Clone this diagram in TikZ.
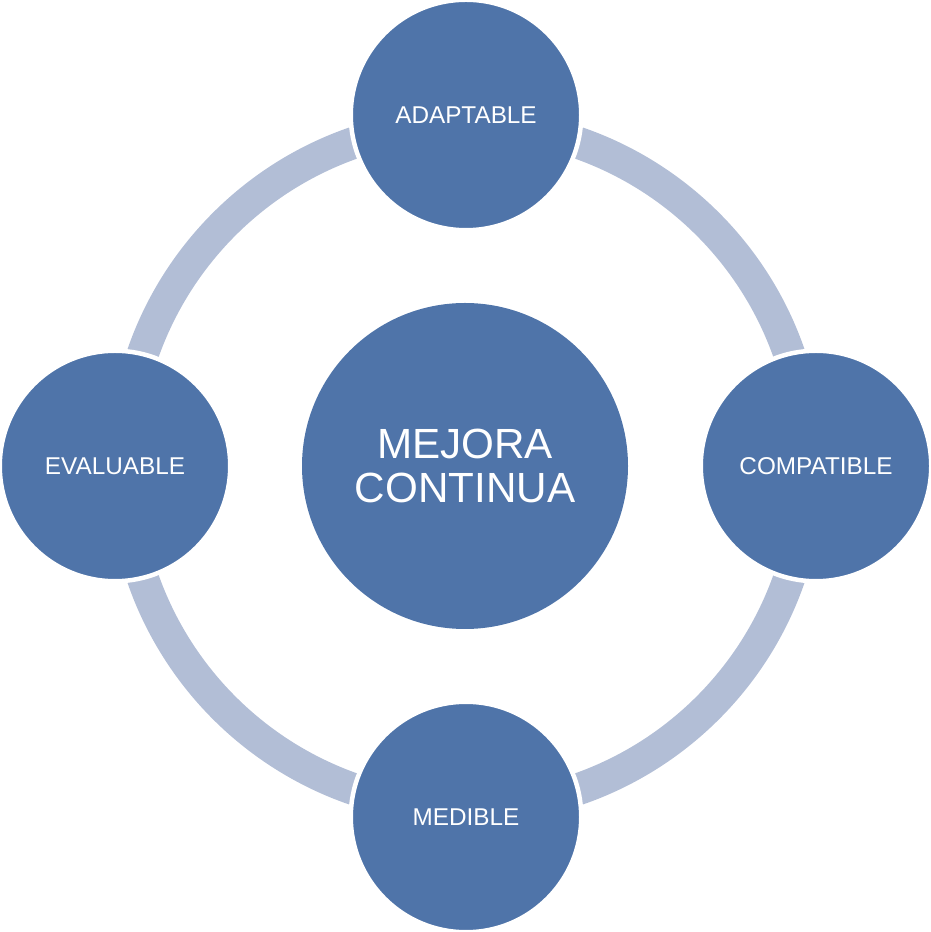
\documentclass[tikz,border=0pt]{standalone}
\usepackage{fontspec}
\setmainfont{Liberation Sans}
\definecolor{cblue}{HTML}{4F74A9}
\definecolor{cring}{HTML}{B2BED6}
\begin{document}
\begin{tikzpicture}[x=1pt,y=1pt,
  outer/.style={circle,fill=cblue,draw=white,line width=4.5pt,minimum size=230.5pt,inner sep=0pt,text=white,font=\fontsize{24.3}{28}\selectfont},
  center/.style={circle,fill=cblue,minimum size=326pt,inner sep=0pt,text=white,align=center,font=\fontsize{42.2}{44}\selectfont}]
\useasboundingbox (0,0) rectangle (931,932);
\coordinate (c) at (466,466);
\draw[cring,line width=32pt] (c) circle[radius=342];
\node[center] (m) at (465,466) {MEJORA\\CONTINUA};
\node[outer] (t) at (466,817) {ADAPTABLE};
\node[outer] (r) at (816,466) {COMPATIBLE};
\node[outer] (b) at (466,115) {MEDIBLE};
\node[outer] (l) at (115,466) {EVALUABLE};
\end{tikzpicture}
\end{document}
